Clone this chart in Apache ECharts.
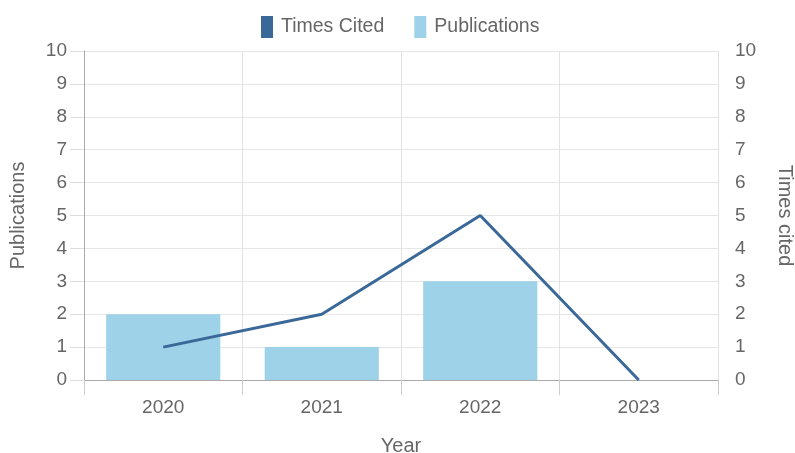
<!DOCTYPE html>
<html>
<head>
<meta charset="utf-8">
<script src="https://cdn.jsdelivr.net/npm/echarts@6/dist/echarts.min.js"></script>
<style>html,body{margin:0;padding:0;background:#fff}#c{width:795px;height:453px}</style>
</head>
<body>
<div id="c"></div>
<script>
var years = ['2020', '2021', '2022', '2023'];
var publications = [2, 1, 3, 0];
var timesCited = [1, 2, 5, 0];

var chart = echarts.init(document.getElementById('c'), null, {renderer: 'canvas'});
var font = '"Liberation Sans", Arial, sans-serif';
var txt = '#666';
chart.setOption({
  animation: false,
  textStyle: {fontFamily: font},
  legend: {
    top: 11, left: 256,
    itemWidth: 12, itemHeight: 22, itemGap: 30,
    textStyle: {fontSize: 19.5, color: txt, fontFamily: font, padding: [0, 0, 0, 3]},
    data: [{name: 'Times Cited', icon: 'rect'}, {name: 'Publications', icon: 'rect'}]
  },
  grid: {left: 84, right: 77, top: 51, bottom: 73, containLabel: false, outerBoundsMode: 'none'},
  xAxis: {
    type: 'category', data: years,
    name: 'Year', nameLocation: 'middle', nameGap: 56,
    nameTextStyle: {fontSize: 20, color: txt, fontFamily: font},
    axisLine: {lineStyle: {color: '#aaa'}},
    axisTick: {show: true, length: 15, lineStyle: {color: '#ccc'}},
    axisLabel: {fontSize: 19, color: txt, margin: 18, fontFamily: font},
    splitLine: {show: true, lineStyle: {color: '#e2e2e2'}}
  },
  yAxis: [{
    type: 'value', min: 0, max: 10, interval: 1,
    name: 'Publications', nameLocation: 'middle', nameGap: 56, nameRotate: 90,
    nameTextStyle: {fontSize: 20, color: txt, fontFamily: font},
    axisLine: {show: true, lineStyle: {color: '#aaa'}},
    axisTick: {show: true, length: 14, lineStyle: {color: '#ddd'}},
    axisLabel: {fontSize: 19, color: txt, margin: 17, fontFamily: font},
    splitLine: {show: true, lineStyle: {color: '#e6e6e6'}}
  }, {
    type: 'value', min: 0, max: 10, interval: 1, position: 'right',
    name: 'Times cited', nameLocation: 'middle', nameGap: 57, nameRotate: -90,
    nameTextStyle: {fontSize: 20, color: txt, fontFamily: font},
    axisLine: {show: false},
    axisTick: {show: false},
    axisLabel: {fontSize: 19, color: txt, margin: 17, fontFamily: font},
    splitLine: {show: false}
  }],
  series: [{
    name: 'Times Cited', type: 'line', yAxisIndex: 1, data: timesCited,
    showSymbol: false, symbol: 'none',
    lineStyle: {color: '#3a6898', width: 3},
    itemStyle: {color: '#3a6898'},
    z: 3
  }, {
    name: 'Publications', type: 'bar', yAxisIndex: 0, data: publications,
    barWidth: '72%',
    itemStyle: {color: '#9dd2e8'},
    z: 2
  }]
});
</script>
</body>
</html>
